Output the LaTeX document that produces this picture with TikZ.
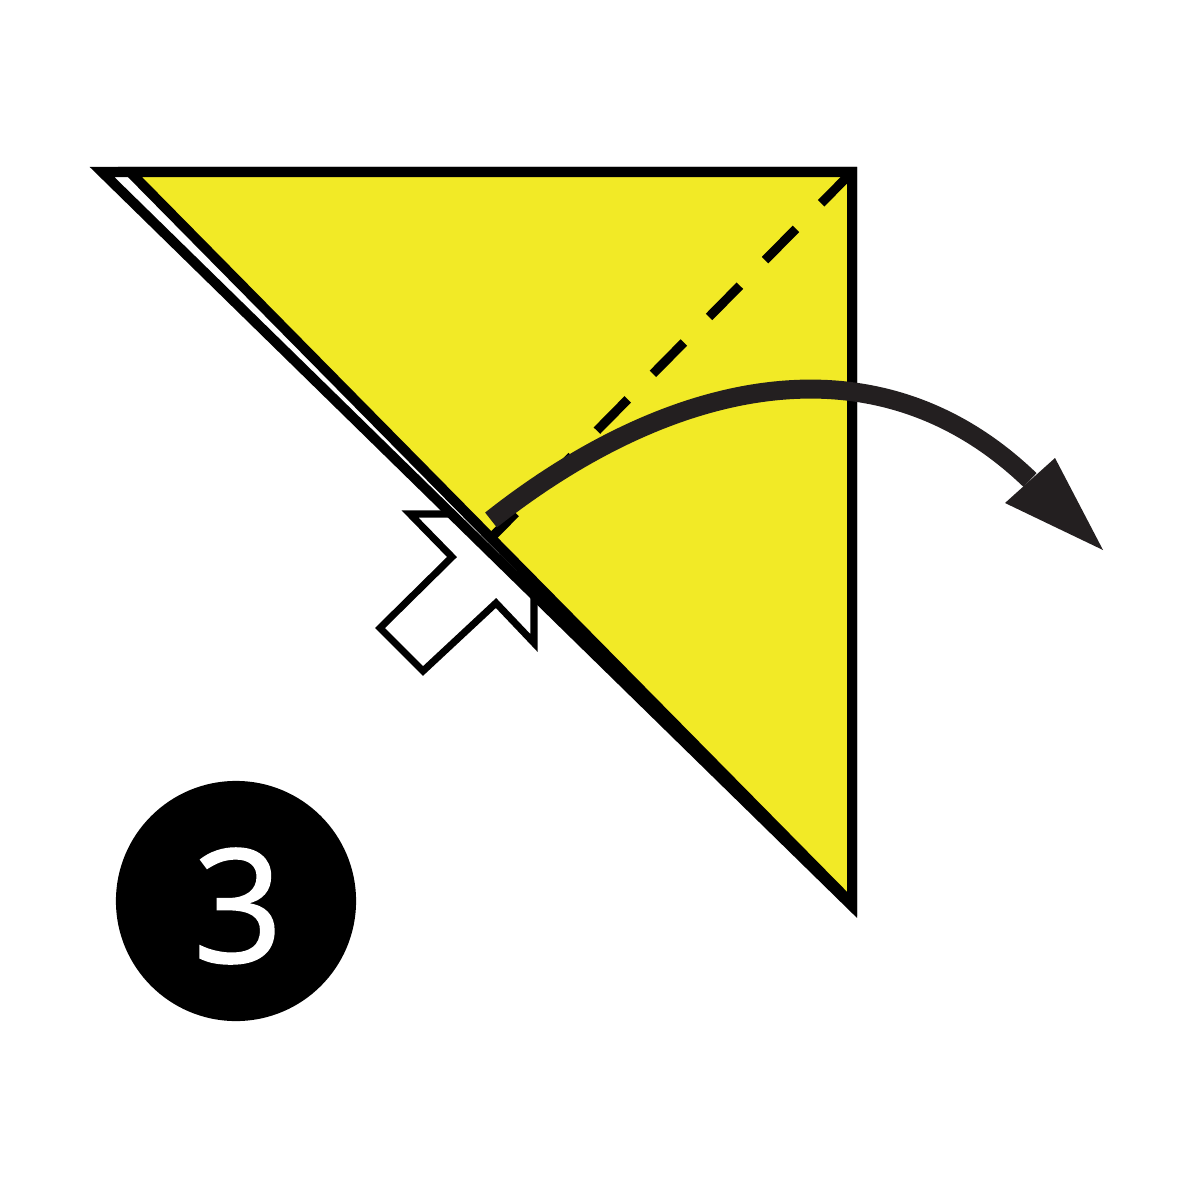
\documentclass[tikz,border=0pt]{standalone}
\usepackage{fontspec}
\newfontfamily\numfont[FakeBold=0.9]{Open Sans}
\definecolor{paperyellow}{RGB}{242,234,38}
\definecolor{arrowblack}{HTML}{231F20}
\begin{document}
\begin{tikzpicture}[x=0.01cm,y=-0.01cm,
  paperedge/.style={line width=2.85pt,line join=miter,draw=black},
  foldsymbol/.style={line width=2pt,line join=miter,draw=black,fill=white},
  valleyline/.style={line width=2.6pt,draw=black,dash pattern=on 12.5pt off 10.2pt},
  movearrow/.style={line width=5.4pt,draw=arrowblack},
  arrowtip/.style={fill=arrowblack}]
\useasboundingbox (0,0) rectangle (1200,1200);
% named corners
\coordinate (backTL) at (102,172);
\coordinate (frontTL) at (130,172);
\coordinate (TR) at (852,172);
\coordinate (backB) at (852,906);
\coordinate (frontB) at (852,904);
\coordinate (foldEnd) at (491,538);
% push symbol (white arrow), partly behind the paper
\draw[foldsymbol] (410,514) -- (534,514) -- (534,643) -- (496,603) -- (423,671)
  -- (380,628) -- (452,557) -- cycle;
% back layer (white)
\draw[paperedge,fill=white] (backTL) -- (TR) -- (backB) -- cycle;
% front layer (yellow)
\draw[paperedge,fill=paperyellow] (frontTL) -- (TR) -- (frontB) -- cycle;
% valley fold line
\draw[valleyline] (TR) -- (foldEnd);
% curved movement arrow
\coordinate (arcStart) at (491,520);
\coordinate (arcEnd) at (1030,480);
\draw[movearrow] (arcStart) .. controls (663,384) and (872,328) .. (arcEnd);
\fill[arrowtip] (1005,503) -- (1055,458) -- (1103,550) -- cycle;
% step number
\node[circle,fill=black,minimum size=2.4cm,inner sep=0pt] (badge) at (236,901) {};
\node[text=white,inner sep=0pt,font=\numfont\fontsize{45}{45}\selectfont] (num) at (238,906) {3};
\end{tikzpicture}
\end{document}
